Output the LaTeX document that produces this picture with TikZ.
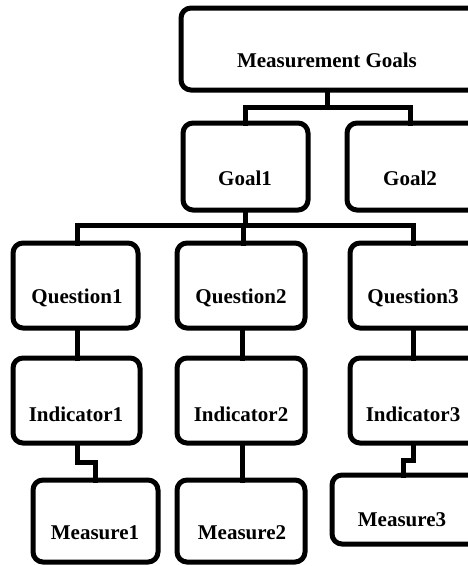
\documentclass[tikz,border=0pt]{standalone}
\usepackage{fontspec}
\setmainfont{Liberation Serif}
\begin{document}
\begin{tikzpicture}[x=1pt,y=-1pt,
  box/.style={draw, line width=5pt, rounded corners=10pt, inner sep=0pt, outer sep=0pt},
  lbl/.style={anchor=base, inner sep=0pt, font=\fontsize{21}{24}\selectfont\bfseries},
  link/.style={line width=5pt, line join=miter, line cap=rect}]
\useasboundingbox (0,0) rectangle (468,566);
\clip (0,0) rectangle (468,566);

% boxes
\node[box, minimum width=299pt, minimum height=82pt] (mg) at (330.5,49) {};
\node[box, minimum width=125pt, minimum height=87pt] (g1) at (245.5,166.5) {};
\node[box, minimum width=133pt, minimum height=87pt] (g2) at (413.5,166.5) {};
\node[box, minimum width=125pt, minimum height=85pt] (q1) at (75.5,285.5) {};
\node[box, minimum width=128pt, minimum height=85pt] (q2) at (241,285.5) {};
\node[box, minimum width=130pt, minimum height=85pt] (q3) at (415,285.5) {};
\node[box, minimum width=127pt, minimum height=85pt] (i1) at (76.5,400.5) {};
\node[box, minimum width=128pt, minimum height=85pt] (i2) at (241,400.5) {};
\node[box, minimum width=130pt, minimum height=85pt] (i3) at (415,400.5) {};
\node[box, minimum width=125pt, minimum height=82pt] (m1) at (95.5,521) {};
\node[box, minimum width=128pt, minimum height=82pt] (m2) at (241,521) {};
\node[box, minimum width=148pt, minimum height=69pt] (m3) at (406,509.5) {};

% labels
\node[lbl] (mgt) at (327,67) {Measurement Goals};
\node[lbl] (g1t) at (245,185) {Goal1};
\node[lbl] (g2t) at (410,185) {Goal2};
\node[lbl] (q1t) at (77,303) {Question1};
\node[lbl] (q2t) at (241,303) {Question2};
\node[lbl] (q3t) at (413,303) {Question3};
\node[lbl] (i1t) at (76,421) {Indicator1};
\node[lbl] (i2t) at (241,421) {Indicator2};
\node[lbl] (i3t) at (413,421) {Indicator3};
\node[lbl] (m1t) at (95,539) {Measure1};
\node[lbl] (m2t) at (242,539) {Measure2};
\node[lbl] (m3t) at (402,526) {Measure3};

% connectors
\draw[link] (mg.south -| 327,0) -- (327,107);
\draw[link] (g1.north -| 245,0) |- (327,107) -| (g2.north -| 410,0);
\draw[link] (g1.south -| 245,0) -- (245,225);
\draw[link] (q1.north -| 77,0) |- (245,225) -| (q3.north -| 413,0);
\draw[link] (243,225) -- (q2.north -| 243,0);
\draw[link] (q1.south -| 77,0) -- (i1.north -| 77,0);
\draw[link] (q2.south -| 242,0) -- (i2.north -| 242,0);
\draw[link] (q3.south -| 413,0) -- (i3.north -| 413,0);
\draw[link] (i1.south -| 77,0) |- (95,462) -- (m1.north -| 95,0);
\draw[link] (i2.south -| 242,0) -- (m2.north -| 242,0);
\draw[link] (i3.south -| 413,0) |- (403,460) -- (m3.north -| 403,0);
\end{tikzpicture}
\end{document}
